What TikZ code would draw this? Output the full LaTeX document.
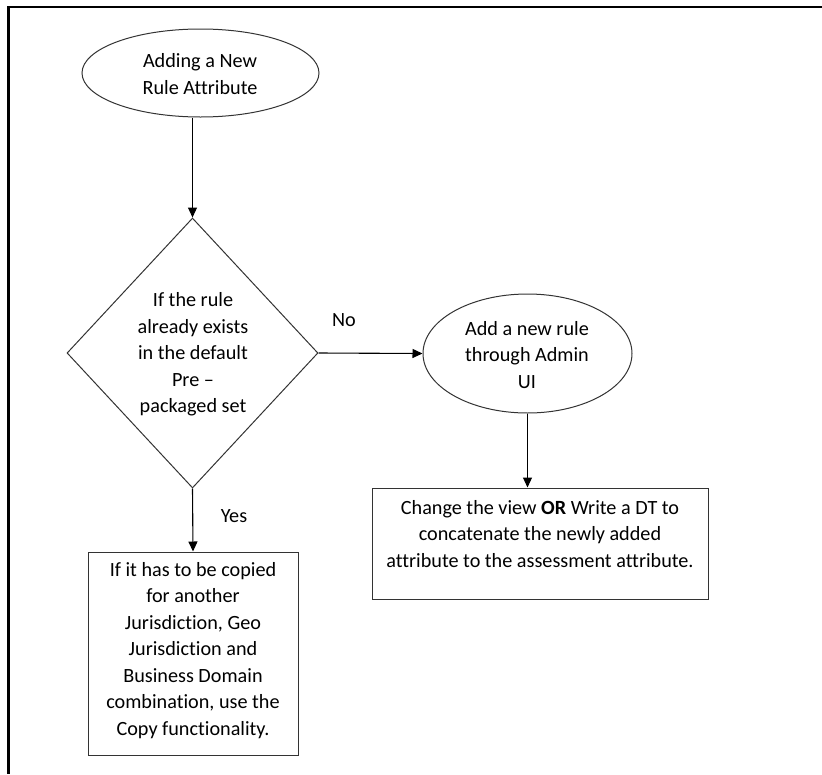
\documentclass[tikz,border=0pt]{standalone}
\usepackage{fontspec}
\setmainfont{Carlito}[Ligatures=NoCommon]
\usetikzlibrary{shapes.geometric,arrows.meta}
\begin{document}
\begin{tikzpicture}[x=1pt,y=-1pt,
  shp/.style={draw=black!80, line width=1pt, inner sep=0pt},
  txt/.style={align=center, font=\fontsize{20.2}{26.5}\selectfont, text=black, inner sep=0pt},
  arr/.style={draw=black, line width=1.1pt, -{Triangle[length=10pt,width=9pt]}}]
\useasboundingbox (0,0) rectangle (822,774);
% frame
\coordinate (fr1) at (822,7);
\coordinate (fr2) at (8.5,7);
\coordinate (fr3) at (8.5,774);
\draw[line width=2.7pt] (fr1) -- (fr2) -- (fr3);
% shapes
\node[shp, ellipse, minimum width=237pt, minimum height=88pt] (e1) at (200.5,73) {};
\node[txt] (t1) at (200,74) {Adding a New\\Rule Attribute};
\node[shp, diamond, minimum width=251pt, minimum height=270pt] (d) at (192.5,353) {};
\node[txt] (td) at (193,354.5) {If the rule\\already exists\\in the default\\Pre –\\packaged set};
\node[shp, ellipse, minimum width=209pt, minimum height=119pt] (e2) at (527.5,353.5) {};
\node[txt] (te2) at (527,355) {Add a new rule\\through Admin\\UI};
\node[shp, rectangle, minimum width=336pt, minimum height=111pt] (b2) at (540,543.5) {};
\node[txt] (tb2) at (540,534) {Change the view \textbf{OR} Write a DT to\\concatenate the newly added\\attribute to the assessment attribute.};
\node[shp, rectangle, minimum width=210pt, minimum height=203pt] (b1) at (193,653.5) {};
\node[txt] (tb1) at (193,650.5) {If it has to be copied\\for another\\Jurisdiction, Geo\\Jurisdiction and\\Business Domain\\combination, use the\\Copy functionality.};
\node[txt] (yes) at (234,516) {Yes};
\node[txt] (no) at (344,320) {No};
% connectors
\draw[arr] (d.north |- e1.south) -- (d.north);
\draw[arr] (d.east) -- (e2.west);
\draw[arr] (e2.south) -- (e2.south |- b2.north);
\draw[arr] (d.south) -- (b1.north);
\end{tikzpicture}
\end{document}
